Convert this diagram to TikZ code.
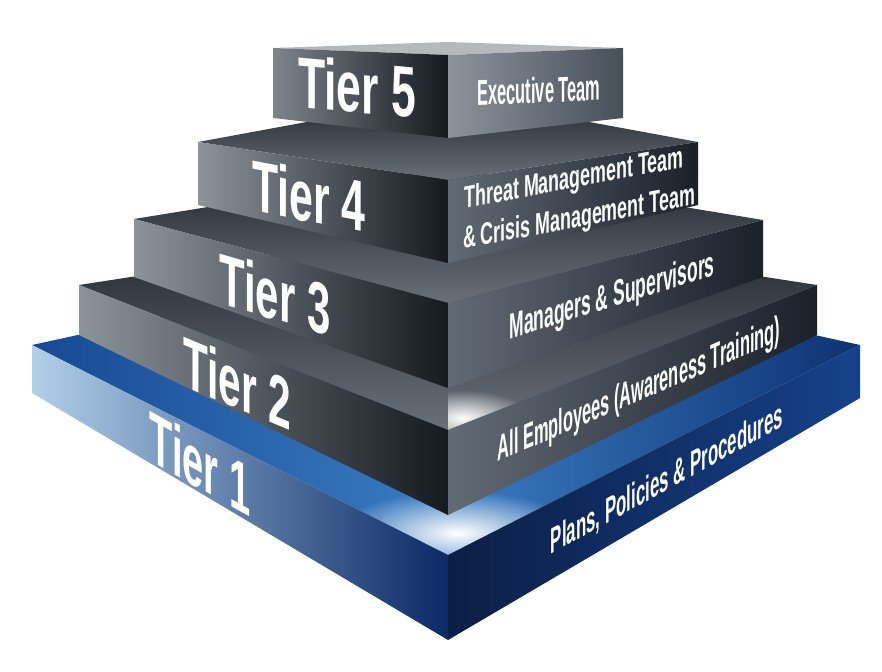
\documentclass[tikz,border=0pt]{standalone}
\usepackage{fontspec}
\newfontfamily\tierfont[FakeStretch=0.6]{Liberation Sans}
\usetikzlibrary{fadings}

% greys of the four upper tiers
\definecolor{gLeftA}{HTML}{8C939B}
\definecolor{gLeftB}{HTML}{474F59}
\definecolor{gLeftC}{HTML}{151920}
\definecolor{gRightA}{HTML}{626A74}
\definecolor{gRightB}{HTML}{1B2029}
\definecolor{gTopBack}{HTML}{20252D}
\definecolor{gTopFront}{HTML}{6A7078}
\definecolor{gCap}{HTML}{B4B9BE}
% blues of the base tier
\definecolor{bLeftA}{HTML}{B2D0EA}
\definecolor{bLeftB}{HTML}{3B7EC2}
\definecolor{bLeftC}{HTML}{0B2A66}
\definecolor{bRightA}{HTML}{0C1E46}
\definecolor{bRightB}{HTML}{1C4B93}
\definecolor{bRightC}{HTML}{16418A}
\definecolor{bTopA}{HTML}{174A94}
\definecolor{bTopB}{HTML}{3A7CC2}
\definecolor{bTopC}{HTML}{0E3273}

\tikzfading[name=softglow, inner color=transparent!0, outer color=transparent!100]

\begin{document}
\begin{tikzpicture}[x=1pt,y=-1pt,
  tierlabel/.style={inner sep=0pt, text=white, font=\tierfont\bfseries\fontsize{72}{72}\selectfont},
  facelabel/.style={inner sep=0pt, text=white, font=\tierfont\bfseries\fontsize{36}{31}\selectfont},
  teamlabel/.style={facelabel, yslant=0.19, xscale=0.96, font=\tierfont\bfseries\fontsize{31}{33}\selectfont},
  greyleft/.style={left color=gLeftA, middle color=gLeftB, right color=gLeftC},
  greyright/.style={left color=gRightA, right color=gRightB},
  greytop/.style={top color=gTopBack, bottom color=gTopFront},
]
\useasboundingbox (0,0) rectangle (882,671);

% corner points of every slab: L/F/R = top of left, front and right edges,
% Lb/Fb/Rb = their bottoms, B = hidden back corner of the top face
\coordinate (t1L) at (32,345);  \coordinate (t1Lb) at (32,393);
\coordinate (t1F) at (448,555); \coordinate (t1Fb) at (448,640);
\coordinate (t1R) at (860,345); \coordinate (t1Rb) at (860,398);
\coordinate (t1B) at (448,254);

\coordinate (t2L) at (79,285);  \coordinate (t2Lb) at (79,335);
\coordinate (t2F) at (448,430); \coordinate (t2Fb) at (448,515);
\coordinate (t2R) at (817,285); \coordinate (t2Rb) at (817,335);
\coordinate (t2B) at (448,228);

\coordinate (t3L) at (134,219); \coordinate (t3Lb) at (134,277);
\coordinate (t3F) at (448,303); \coordinate (t3Fb) at (448,388);
\coordinate (t3R) at (763,220); \coordinate (t3Rb) at (763,277);
\coordinate (t3B) at (448,168);

\coordinate (t4L) at (198,142); \coordinate (t4Lb) at (198,205);
\coordinate (t4F) at (448,180); \coordinate (t4Fb) at (448,263);
\coordinate (t4R) at (698,142); \coordinate (t4Rb) at (698,205);
\coordinate (t4B) at (448,96);

\coordinate (t5L) at (273,48);  \coordinate (t5Lb) at (273,118);
\coordinate (t5F) at (448,55);  \coordinate (t5Fb) at (448,138);
\coordinate (t5R) at (623,48);  \coordinate (t5Rb) at (623,118);
\coordinate (t5B) at (448,42);

% ---------- Tier 1 (blue base) ----------
\shade[left color=bTopA, right color=bTopB] (t1L) -- (t1F) -- (t1B) -- cycle;
\shade[left color=bTopB, right color=bTopC] (t1F) -- (t1R) -- (t1B) -- cycle;
\begin{scope}
  \clip (t1L) -- (t1F) -- (t1R) -- (t1B) -- cycle;
  \fill[white, path fading=softglow] (458,533) ellipse (125 and 42);
\end{scope}
\shade[left color=bLeftA, middle color=bLeftB, right color=bLeftC]
  (t1L) -- (t1F) -- (t1Fb) -- (t1Lb) -- cycle;
\shade[left color=bRightA, middle color=bRightB, right color=bRightC]
  (t1F) -- (t1R) -- (t1Rb) -- (t1Fb) -- cycle;

% ---------- Tier 2 ----------
\shade[greytop] (t2L) -- (t2F) -- (t2R) -- (t2B) -- cycle;
\begin{scope}
  \clip (t2F) -- (t2R) -- (t2B) -- cycle;
  \fill[white, path fading=softglow] (462,418) ellipse (70 and 28);
\end{scope}
\shade[greyleft]  (t2L) -- (t2F) -- (t2Fb) -- (t2Lb) -- cycle;
\shade[greyright] (t2F) -- (t2R) -- (t2Rb) -- (t2Fb) -- cycle;

% ---------- Tier 3 ----------
\shade[greytop] (t3L) -- (t3F) -- (t3R) -- (t3B) -- cycle;
\shade[greyleft]  (t3L) -- (t3F) -- (t3Fb) -- (t3Lb) -- cycle;
\shade[greyright] (t3F) -- (t3R) -- (t3Rb) -- (t3Fb) -- cycle;

% ---------- Tier 4 ----------
\shade[greytop] (t4L) -- (t4F) -- (t4R) -- (t4B) -- cycle;
\shade[greyleft]  (t4L) -- (t4F) -- (t4Fb) -- (t4Lb) -- cycle;
\shade[greyright] (t4F) -- (t4R) -- (t4Rb) -- (t4Fb) -- cycle;

% ---------- Tier 5 (top block) ----------
\fill[gCap] (t5L) -- (t5F) -- (t5R) -- (t5B) -- cycle;
\shade[left color=gLeftA!90!black, middle color=gLeftB, right color=gLeftC]
  (t5L) -- (t5F) -- (t5Fb) -- (t5Lb) -- cycle;
\shade[left color=gLeftA, right color=gLeftB]
  (t5F) -- (t5R) -- (t5Rb) -- (t5Fb) -- cycle;

% ---------- tier numbers on the left faces ----------
\node[tierlabel, yslant=-0.09, xscale=1.03] (tier5) at (357,87)  {Tier 5};
\node[tierlabel, yslant=-0.19, xscale=0.99] (tier4) at (309,196) {Tier 4};
\node[tierlabel, yslant=-0.29, xscale=0.97] (tier3) at (275,294) {Tier 3};
\node[tierlabel, yslant=-0.42, xscale=0.94] (tier2) at (237,383) {Tier 2};
\node[tierlabel, yslant=-0.56, xscale=0.88] (tier1) at (200,463) {Tier 1};

% ---------- audiences on the right faces ----------
\node[facelabel, yslant=0.04, xscale=0.76] (exec) at (539,90) {Executive Team};
\node[teamlabel] (threat1) at (574,180) {Threat Management Team};
\node[teamlabel] (threat2) at (579,219) {\& Crisis Management Team};
\node[facelabel, yslant=0.31, xscale=0.81] (managers) at (612,298) {Managers \& Supervisors};
\node[facelabel, yslant=0.43, xscale=0.76] (employees) at (639,392) {All Employees (Awareness Training)};
\node[facelabel, yslant=0.55, xscale=0.78] (plans) at (667,480) {Plans, Policies \& Procedures};
\end{tikzpicture}
\end{document}
